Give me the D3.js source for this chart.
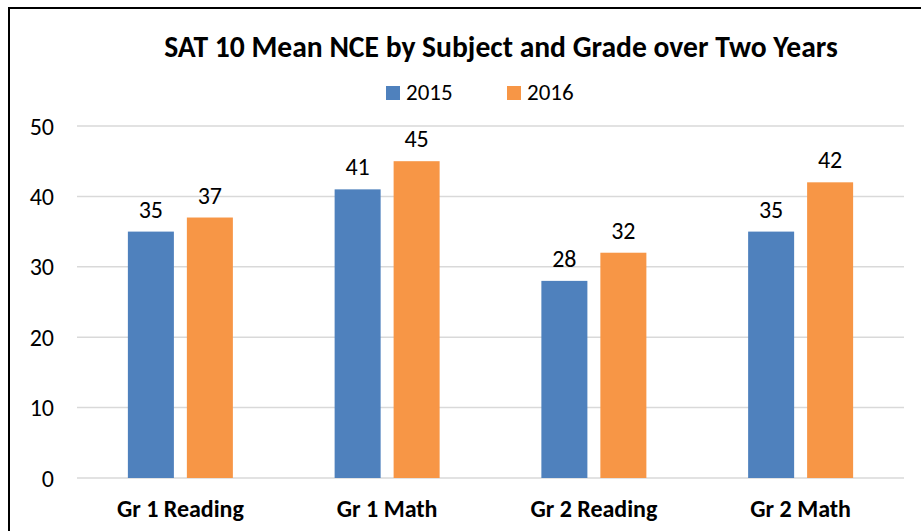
<!DOCTYPE html>
<html>
<head>
<meta charset="utf-8">
<script src="https://cdn.jsdelivr.net/npm/d3@7"></script>
<style>
  body { margin: 0; background: #fff; }
  text { font-family: Carlito, Calibri, Lato, sans-serif; fill: #000; }
</style>
</head>
<body>
<svg id="chart" width="921" height="531"></svg>
<script>
var categories = ['Gr 1 Reading', 'Gr 1 Math', 'Gr 2 Reading', 'Gr 2 Math'];
var seriesNames = ['2015', '2016'];
var values2015 = [35, 41, 28, 35];
var values2016 = [37, 45, 32, 42];
var yTicks = [0, 10, 20, 30, 40, 50];
var colors = ['#4f81bd', '#f79646'];

var svg = d3.select('#chart');

// outer frame (runs off the right and bottom edge like the screenshot)
svg.append('rect')
  .attr('x', 9).attr('y', 8)
  .attr('width', 940).attr('height', 560)
  .attr('fill', 'none')
  .attr('stroke', '#000')
  .attr('stroke-width', 2);

var plot = { left: 77, right: 904, top: 126, bottom: 478 };

var y = d3.scaleLinear().domain([0, 50]).range([plot.bottom, plot.top]);
var x0 = d3.scaleBand().domain(categories).range([plot.left, plot.right]);
var groupW = 105;
var x1 = d3.scaleBand().domain(seriesNames)
  .range([(x0.bandwidth() - groupW) / 2, (x0.bandwidth() + groupW) / 2])
  .paddingInner(0.22);

// gridlines
svg.append('g').selectAll('line.grid').data(yTicks)
  .enter().append('line')
    .attr('class', 'grid')
    .attr('x1', plot.left).attr('x2', plot.right)
    .attr('y1', function(d) { return y(d); })
    .attr('y2', function(d) { return y(d); })
    .attr('stroke', '#d9d9d9')
    .attr('stroke-width', 1.5);

// y axis labels
var yAxis = d3.axisLeft(y).tickValues(yTicks).tickSize(0).tickPadding(0);
var yg = svg.append('g').attr('transform', 'translate(54,0)').call(yAxis);
yg.select('.domain').remove();
yg.selectAll('text')
  .attr('font-size', 24)
  .attr('dy', 8)
  .attr('font-family', 'Carlito, Calibri, Lato, sans-serif')
  .attr('fill', '#000');

// x axis labels
var xAxis = d3.axisBottom(x0).tickSize(0).tickPadding(0);
var xg = svg.append('g').attr('transform', 'translate(0,' + plot.bottom + ')').call(xAxis);
xg.select('.domain').remove();
xg.selectAll('text')
  .attr('y', 0).attr('dy', 39)
  .attr('font-size', 24)
  .attr('font-weight', 'bold')
  .attr('font-family', 'Carlito, Calibri, Lato, sans-serif')
  .attr('fill', '#000');

var rows = categories.map(function(c, i) {
  return { cat: c, vals: [values2015[i], values2016[i]] };
});

var groups = svg.append('g').selectAll('g.cat').data(rows)
  .enter().append('g')
    .attr('class', 'cat')
    .attr('transform', function(d) { return 'translate(' + x0(d.cat) + ',0)'; });

groups.selectAll('rect').data(function(d) {
    return d.vals.map(function(v, j) { return { s: seriesNames[j], v: v, j: j }; });
  })
  .enter().append('rect')
    .attr('x', function(d) { return x1(d.s); })
    .attr('y', function(d) { return y(d.v); })
    .attr('width', x1.bandwidth())
    .attr('height', function(d) { return y(0) - y(d.v); })
    .attr('fill', function(d) { return colors[d.j]; });

groups.selectAll('text.val').data(function(d) {
    return d.vals.map(function(v, j) { return { s: seriesNames[j], v: v }; });
  })
  .enter().append('text')
    .attr('class', 'val')
    .attr('x', function(d) { return x1(d.s) + x1.bandwidth() / 2; })
    .attr('y', function(d) { return y(d.v) - 14; })
    .attr('text-anchor', 'middle')
    .attr('font-size', 24)
    .text(function(d) { return d.v; });

// title
svg.append('text')
  .attr('x', 501).attr('y', 57)
  .attr('text-anchor', 'middle')
  .attr('font-size', 29.6)
  .attr('font-weight', 'bold')
  .text('SAT 10 Mean NCE by Subject and Grade over Two Years');

// legend
var legendX = [386, 507];
var legend = svg.append('g').selectAll('g.leg').data(seriesNames)
  .enter().append('g')
    .attr('class', 'leg')
    .attr('transform', function(d, i) { return 'translate(' + legendX[i] + ',86)'; });
legend.append('rect')
  .attr('width', 14).attr('height', 14)
  .attr('fill', function(d, i) { return colors[i]; });
legend.append('text')
  .attr('x', 20).attr('y', 14)
  .attr('font-size', 23)
  .text(function(d) { return d; });
</script>
</body>
</html>
